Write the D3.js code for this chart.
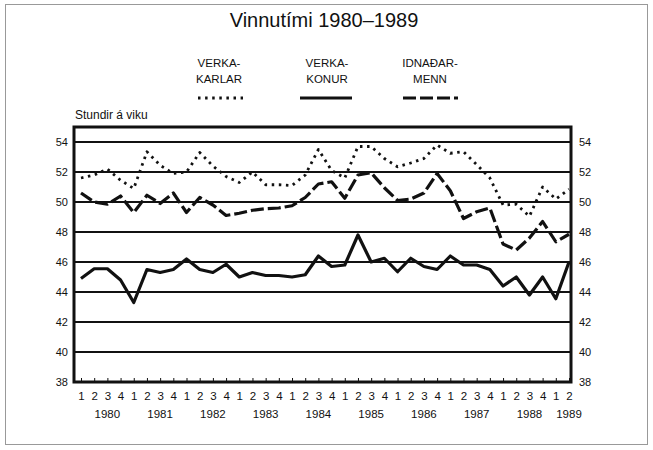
<!DOCTYPE html>
<html><head><meta charset="utf-8">
<script src="https://cdn.jsdelivr.net/npm/d3@7"></script>
<style>body{margin:0;background:#fff}svg{display:block}text{font-family:"Liberation Sans",Arial,sans-serif;fill:#111}</style>
</head><body>
<svg id="c" width="653" height="450"></svg>
<script>
const years = ["1980","1981","1982","1983","1984","1985","1986","1987","1988","1989"];
const quarterLabels = ["1","2","3","4","1","2","3","4","1","2","3","4","1","2","3","4","1","2","3","4","1","2","3","4","1","2","3","4","1","2","3","4","1","2","3","4","1","2"];
const verkakarlar = [51.6,51.8,52.2,51.45,50.9,53.35,52.45,51.9,52.0,53.3,52.4,51.7,51.3,52.0,51.15,51.15,51.1,51.8,53.5,52.1,51.6,53.7,53.7,52.9,52.35,52.6,52.9,53.8,53.25,53.35,52.5,51.6,49.8,49.85,49.05,51.0,50.2,50.85];
const verkakonur = [44.9,45.55,45.55,44.8,43.3,45.5,45.3,45.5,46.2,45.5,45.3,45.85,45.0,45.3,45.1,45.1,45.0,45.15,46.4,45.7,45.8,47.8,46.0,46.25,45.35,46.25,45.7,45.5,46.4,45.8,45.8,45.5,44.4,45.0,43.8,45.0,43.55,46.0];
const idnadarmenn = [50.6,50.0,49.85,50.4,49.3,50.45,49.9,50.6,49.3,50.3,49.8,49.1,49.25,49.45,49.55,49.6,49.75,50.3,51.2,51.35,50.25,51.8,51.95,50.95,50.1,50.2,50.6,51.9,50.75,48.9,49.35,49.6,47.2,46.8,47.6,48.7,47.35,47.85];
const yTicks = [38,40,42,44,46,48,50,52,54];
const seriesNames = [["VERKA-","KARLAR"],["VERKA-","KONUR"],["IDNAÐAR-","MENN"]];

const svg = d3.select("#c");
const L = 74, R = 571, T = 127, B = 382;
const x = d3.scalePoint().domain(d3.range(quarterLabels.length)).range([81, 569]);
const y = d3.scaleLinear().domain([38, 55]).range([B, T]);

// outer frame
svg.append("rect").attr("x",5.5).attr("y",4.5).attr("width",642).attr("height",440)
  .attr("fill","none").attr("stroke","#999").attr("stroke-width",1);

// title
svg.append("text").attr("x",324).attr("y",27).attr("text-anchor","middle")
  .attr("font-size",20).style("font-weight",300).text("Vinnutími 1980\u20131989");

// legend
const legX = [219, 327, 430];
const dashes = ["2.5 4.6", null, "13 4"];
seriesNames.forEach((n,k)=>{
  n.forEach((t,j)=>svg.append("text").attr("x",legX[k]).attr("y",67+j*15.5)
    .attr("text-anchor","middle").attr("font-size",11.5).text(t));
});
const legLines = [[198,243],[300,352],[403,458]];
legLines.forEach((p,k)=>{
  const l = svg.append("line").attr("x1",p[0]).attr("x2",p[1]).attr("y1",98).attr("y2",98)
    .attr("stroke","#111").attr("stroke-width",k===0?2.8:3.2);
  if(dashes[k]) l.attr("stroke-dasharray",dashes[k]);
});

// y axis title
svg.append("text").attr("x",75).attr("y",119).attr("font-size",12).text("Stundir á viku");

// gridlines
svg.append("g").selectAll("line").data(yTicks.filter(v=>v>38)).join("line")
  .attr("x1",L).attr("x2",R).attr("y1",d=>y(d)).attr("y2",d=>y(d))
  .attr("stroke","#111").attr("stroke-width",2);

// y axes labels
const yl = d3.axisLeft(y).tickValues(yTicks).tickSize(0).tickPadding(5);
const gl = svg.append("g").attr("transform",`translate(${L-1},0)`).call(yl);
const yr = d3.axisRight(y).tickValues(yTicks).tickSize(0).tickPadding(7);
const gr = svg.append("g").attr("transform",`translate(${R+1},0)`).call(yr);
[gl,gr].forEach(g=>{g.select(".domain").remove();g.selectAll("text").attr("font-size",11).attr("fill","#111").style("font-family","Liberation Sans, Arial, sans-serif");});

// x axis
const xa = d3.axisBottom(x).tickSize(-4).tickPadding(10).tickFormat(i=>quarterLabels[i]);
const gx = svg.append("g").attr("transform",`translate(0,${B})`).call(xa);
gx.select(".domain").remove();
gx.selectAll("line").attr("stroke","#111").attr("stroke-width",1);
gx.selectAll("text").attr("font-size",11.5).attr("fill","#111").style("font-family","Liberation Sans, Arial, sans-serif");
years.forEach((yr,k)=>{
  const idx = Math.min(k*4+2, quarterLabels.length-1);
  svg.append("text").attr("x",x(idx)).attr("y",418).attr("text-anchor","middle").attr("font-size",11.5).text(yr);
});

// frame
svg.append("rect").attr("x",L).attr("y",T).attr("width",R-L).attr("height",B-T)
  .attr("fill","none").attr("stroke","#111").attr("stroke-width",3);

// series
const line = d3.line().x((d,i)=>x(i)).y(d=>y(d));
const data = [verkakarlar, verkakonur, idnadarmenn];
data.forEach((s,k)=>{
  const p = svg.append("path").datum(s).attr("d",line).attr("fill","none")
    .attr("stroke","#111").attr("stroke-width",k===0?2.8:3.2).attr("stroke-linejoin","round");
  if(dashes[k]) p.attr("stroke-dasharray",dashes[k]);
});
</script>
</body></html>
